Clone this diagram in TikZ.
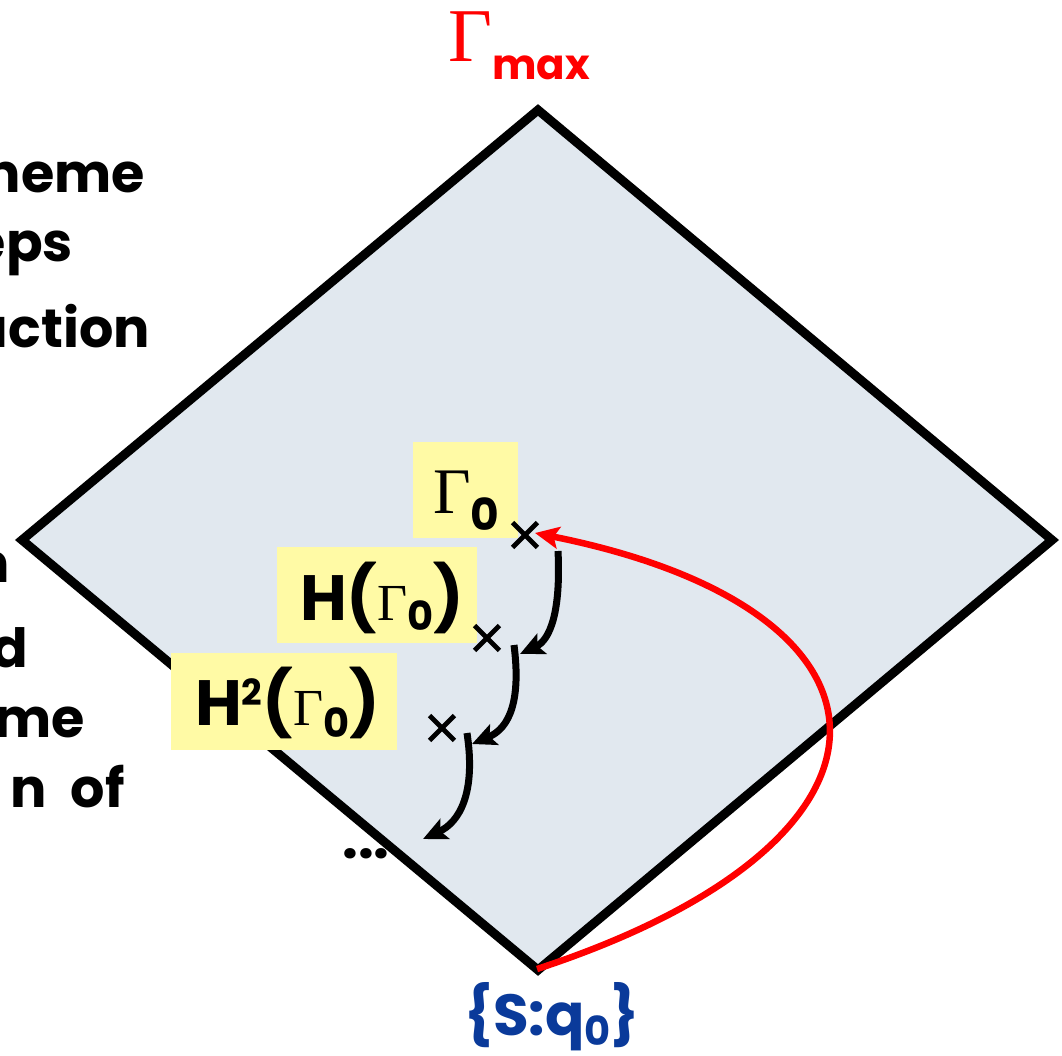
\documentclass[tikz,border=0pt]{standalone}
\usepackage{fontspec}
\setmainfont{Poppins}
\newfontfamily\gfont{Liberation Serif}
\usetikzlibrary{arrows.meta,shapes.misc}
\definecolor{dfill}{HTML}{E1E8EF}
\definecolor{ybox}{HTML}{FFFAA5}
\definecolor{sblue}{HTML}{0A3A9A}
\tikzset{
  ybox/.style={fill=ybox, inner sep=0pt},
  xmark/.style={cross out, draw=black, line width=4.8pt, minimum size=20pt, inner sep=0pt},
  harrow/.style={line width=7pt, -{Stealth[length=24pt,width=22pt,inset=5pt]}},
  rarrow/.style={red, line width=6.5pt, -{Stealth[length=24pt,width=22pt,inset=5pt]}},
  ltxt/.style={anchor=base east, inner sep=0pt, font=\fontsize{54}{54}\selectfont\bfseries},
}
\begin{document}
\begin{tikzpicture}[x=1pt,y=-1pt]
\useasboundingbox (0,0) rectangle (1062,1056);
% diamond
\coordinate (top) at (538,110);
\coordinate (rt) at (1052,540);
\coordinate (bot) at (538,970);
\coordinate (lf) at (22,540);
\draw[line width=9pt, fill=dfill, line join=miter] (top) -- (rt) -- (bot) -- (lf) -- cycle;
% left text fragments
\node[ltxt] (t1) at (145,193) {heme};
\node[ltxt] (t2) at (73,262) {eps};
\node[ltxt] (t3) at (150,347) {action};
\node[ltxt] (t4) at (10,582) {n};
\node[ltxt] (t5) at (28,667) {d};
\node[ltxt] (t6) at (85,737) {ame};
\node[ltxt] (t7) at (125,807) {n\hspace{0.45em}of};
% yellow boxes
\path[ybox] (413,442) rectangle (518,538);
\path[ybox] (277,547) rectangle (477,643);
\path[ybox] (171,653) rectangle (397,750);
\node[anchor=base west, inner sep=0pt] (g0) at (433,513)
  {\fontsize{65}{65}\selectfont\gfont Γ\bfseries\rmfamily\fontsize{44}{44}\selectfont\raisebox{-17pt}{0}};
\node[anchor=base west, inner sep=0pt] (h1) at (300,620)
  {\fontsize{64}{64}\selectfont\bfseries H(\gfont\mdseries\fontsize{52}{52}\selectfont Γ\rmfamily\bfseries\fontsize{40}{40}\selectfont\raisebox{-10pt}{0}\fontsize{64}{64}\selectfont)};
\node[anchor=base west, inner sep=0pt] (h2) at (195,725)
  {\fontsize{64}{64}\selectfont\bfseries H\raisebox{20pt}{\fontsize{36}{36}\selectfont 2}(\gfont\mdseries\fontsize{52}{52}\selectfont Γ\rmfamily\bfseries\fontsize{40}{40}\selectfont\raisebox{-12pt}{0}\fontsize{64}{64}\selectfont)};
% crosses
\node[xmark] (x0) at (525,535) {};
\node[xmark] (x1) at (487,638) {};
\node[xmark] (x2) at (442,728) {};
% black arrows
\coordinate (a1s) at (558,551);
\coordinate (a1e) at (520,654);
\coordinate (a2s) at (514,645);
\coordinate (a2e) at (472,744);
\coordinate (a3s) at (467,733);
\coordinate (a3e) at (423,839);
\draw[harrow] (a1s) .. controls (561,612) and (550,640) .. (a1e);
\draw[harrow] (a2s) .. controls (521,700) and (510,728) .. (a2e);
\draw[harrow] (a3s) .. controls (476,792) and (460,822) .. (a3e);
\node[anchor=base, inner sep=0pt, font=\fontsize{56}{56}\selectfont\bfseries] (dots) at (366,858) {...};
% red arrow
\coordinate (rs) at (537,969);
\coordinate (re) at (535,533);
\draw[rarrow] (rs) .. controls (930,840) and (920,610) .. (re);
% labels
\node[anchor=base west, inner sep=0pt, red] (gmax) at (448,62)
  {\gfont\fontsize{76}{76}\selectfont Γ\rmfamily\bfseries\fontsize{42}{42}\selectfont\raisebox{-18pt}{max}};
\node[anchor=base, inner sep=0pt, sblue] (sq) at (552,1035)
  {\fontsize{58}{58}\selectfont\bfseries\{S:q\raisebox{-10pt}{\fontsize{40}{40}\selectfont 0}\}};
\end{tikzpicture}
\end{document}
